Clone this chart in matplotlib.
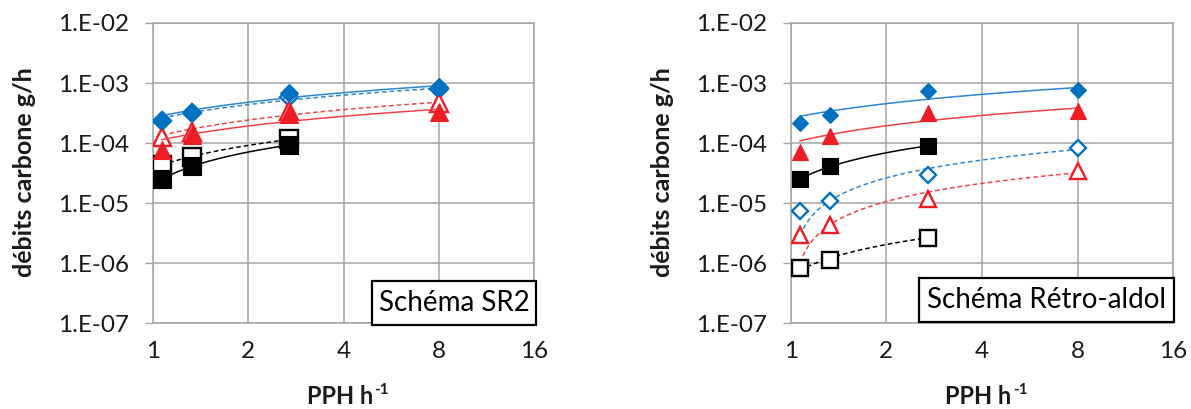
#! /usr/bin/python

"""
Carbon flow rates vs PPH, two kinetic schemes (SR2 and retro-aldol).
Filled markers / solid lines and open markers / dashed lines, each with a
logarithmic trend line (y = a ln(x) + b) like the Excel original.
"""

# LIBRARIES
import matplotlib as mpl
import matplotlib.pyplot as plt
import matplotlib.patches as patches
import numpy as np


# DATA
PPH = [1.07, 1.33, 2.7, 8.0]
PPH_SHORT = [1.07, 1.33, 2.7]

XTICKS = [1, 2, 4, 8, 16]
YTICKS = [1e-7, 1e-6, 1e-5, 1e-4, 1e-3, 1e-2]
YTICKLABELS = ["1.E-07", "1.E-06", "1.E-05", "1.E-04", "1.E-03", "1.E-02"]

# Schema SR2
SR2_BLUE_FULL = [2.42e-4, 3.33e-4, 6.9e-4, 8.5e-4]
SR2_BLUE_OPEN = [2.3e-4, 3.2e-4, 5.9e-4, 7.9e-4]
SR2_RED_FULL = [7.6e-5, 1.36e-4, 3.1e-4, 3.3e-4]
SR2_RED_OPEN = [1.25e-4, 1.55e-4, 3.4e-4, 4.6e-4]
SR2_BLACK_FULL = [2.5e-5, 4.1e-5, 9.3e-5]
SR2_BLACK_OPEN = [4.4e-5, 5.9e-5, 1.15e-4]

# Schema retro-aldol
RA_BLUE_FULL = [2.19e-4, 2.96e-4, 7.25e-4, 7.6e-4]
RA_RED_FULL = [7.2e-5, 1.29e-4, 3.2e-4, 3.45e-4]
RA_BLACK_FULL = [2.5e-5, 4.1e-5, 9.0e-5]
RA_BLUE_OPEN = [7.5e-6, 1.07e-5, 2.96e-5, 8.2e-5]
RA_RED_OPEN = [2.97e-6, 4.35e-6, 1.17e-5, 3.37e-5]
RA_BLACK_OPEN = [8.3e-7, 1.14e-6, 2.68e-6]

BLUE = "#0070C0"
BLUE_LINE = "#2F86D2"
RED = "#EE1C25"
RED_LINE = "#F2434A"
BLACK = "#000000"
GRID = "#A6A6A6"
TEXT = "#1A1A1A"

W, H = 1191.0, 409.0


def logTrend(x, y):

    """
    Excel style logarithmic trend line through the points.
    """

    a, b = np.polyfit(np.log(x), y, 1)
    xs = np.geomspace(x[0], x[-1], 100)

    return xs, a * np.log(xs) + b


def plotSeries(ax, x, y, marker, ms, color, lcolor, filled, z):

    """
    Markers plus trend line.
    """

    xs, ys = logTrend(x, y)
    ls = "-" if filled else (0, (3, 2))
    ax.plot(xs, ys, ls = ls, lw = 1.1, c = lcolor, zorder = z)

    if filled:
        ax.plot(x, y, ls = "none", marker = marker, ms = ms, mfc = color,
                mec = color, mew = 0.8, zorder = z + 1)
    else:
        ax.plot(x, y, ls = "none", marker = marker, ms = ms, mfc = "white",
                mec = color, mew = 1.7, zorder = z + 1)


def setupAxes(ax):

    """
    Log axes, grid and labels.
    """

    ax.set_xscale("log", base = 2)
    ax.set_yscale("log")
    ax.set_xlim(1, 16)
    ax.set_ylim(1e-7, 1e-2)

    ax.set_xticks(XTICKS)
    ax.set_xticklabels([str(t) for t in XTICKS])
    ax.set_yticks(YTICKS)
    ax.set_yticklabels(YTICKLABELS)
    ax.minorticks_off()

    ax.tick_params(axis = "y", length = 6, width = 1.0, color = GRID,
                   pad = 11, labelsize = 17.5, labelcolor = TEXT)
    ax.tick_params(axis = "x", length = 0, pad = 13, labelsize = 17.5,
                   labelcolor = TEXT)

    ax.grid(True, color = GRID, lw = 1.1)
    ax.set_axisbelow(True)
    for s in ax.spines.values():
        s.set_color(GRID)
        s.set_linewidth(1.1)

    ax.set_ylabel("débits carbone g/h", fontsize = 18, fontweight = "bold",
                  color = TEXT)
    ax.yaxis.set_label_coords(-0.335, 0.502)
    ax.yaxis.label.set_va("center")

    # x label with a small "-1" superscript next to it
    ax.set_xlabel("PPH h", fontsize = 17, fontweight = "bold", color = TEXT)
    ax.xaxis.set_label_coords(0.49, -0.244)
    ax.xaxis.label.set_va("center")
    ax.annotate("-1", xy = (1.0, 0.78), xycoords = ax.xaxis.label,
                xytext = (1, 0), textcoords = "offset points",
                ha = "left", va = "center", fontsize = 11,
                fontweight = "bold", color = TEXT)


def addBox(fig, x0, y0, x1, y1, text):

    """
    Bordered label box, pixel coordinates from the top left corner.
    """

    rect = patches.Rectangle((x0 / W, 1 - y1 / H), (x1 - x0) / W,
                             (y1 - y0) / H, transform = fig.transFigure,
                             facecolor = "white", edgecolor = "black",
                             lw = 1.6, zorder = 10)
    fig.patches.append(rect)
    fig.text((x0 + x1) / 2 / W, 1 - (y0 + y1) / 2 / H, text,
             ha = "center", va = "center", fontsize = 20, color = "black",
             zorder = 11)


def main():

    mpl.rcParams["font.family"] = ["Lato", "DejaVu Sans"]

    fig = plt.figure(figsize = (W / 100, H / 100), dpi = 100)

    bottom = (H - 323.3) / H
    height = 300.3 / H
    ax1 = fig.add_axes([152.7 / W, bottom, (534.3 - 152.7) / W, height])
    ax2 = fig.add_axes([790.7 / W, bottom, (1173.3 - 790.7) / W, height])

    # Schema SR2: open markers behind, filled on top
    plotSeries(ax1, PPH, SR2_BLUE_OPEN, "D", 9.0, BLUE, BLUE_LINE, False, 3)
    plotSeries(ax1, PPH, SR2_RED_OPEN, "^", 13.0, RED, RED_LINE, False, 3)
    plotSeries(ax1, PPH_SHORT, SR2_BLACK_OPEN, "s", 12.5, BLACK, BLACK,
               False, 3)
    plotSeries(ax1, PPH, SR2_BLUE_FULL, "D", 9.0, BLUE, BLUE_LINE, True, 5)
    plotSeries(ax1, PPH, SR2_RED_FULL, "^", 13.0, RED, RED_LINE, True, 5)
    plotSeries(ax1, PPH_SHORT, SR2_BLACK_FULL, "s", 12.5, BLACK, BLACK,
               True, 5)

    # Schema retro-aldol
    plotSeries(ax2, PPH, RA_BLUE_FULL, "D", 8.2, BLUE, BLUE_LINE, True, 5)
    plotSeries(ax2, PPH, RA_RED_FULL, "^", 11.5, RED, RED_LINE, True, 5)
    plotSeries(ax2, PPH_SHORT, RA_BLACK_FULL, "s", 11.0, BLACK, BLACK,
               True, 5)
    plotSeries(ax2, PPH, RA_BLUE_OPEN, "D", 8.2, BLUE, BLUE_LINE, False, 3)
    plotSeries(ax2, PPH, RA_RED_OPEN, "^", 11.5, RED, RED_LINE, False, 3)
    plotSeries(ax2, PPH_SHORT, RA_BLACK_OPEN, "s", 11.0, BLACK, BLACK,
               False, 3)

    setupAxes(ax1)
    setupAxes(ax2)
    ax2.yaxis.set_label_coords(-0.334, 0.502)

    addBox(fig, 372, 281, 536, 325, "Schéma SR2")
    addBox(fig, 919, 278, 1174, 322, "Schéma Rétro-aldol")

    fig.savefig("out.png", dpi = 100)


# Run this when script is called from terminal
if __name__ == "__main__":
    main()
